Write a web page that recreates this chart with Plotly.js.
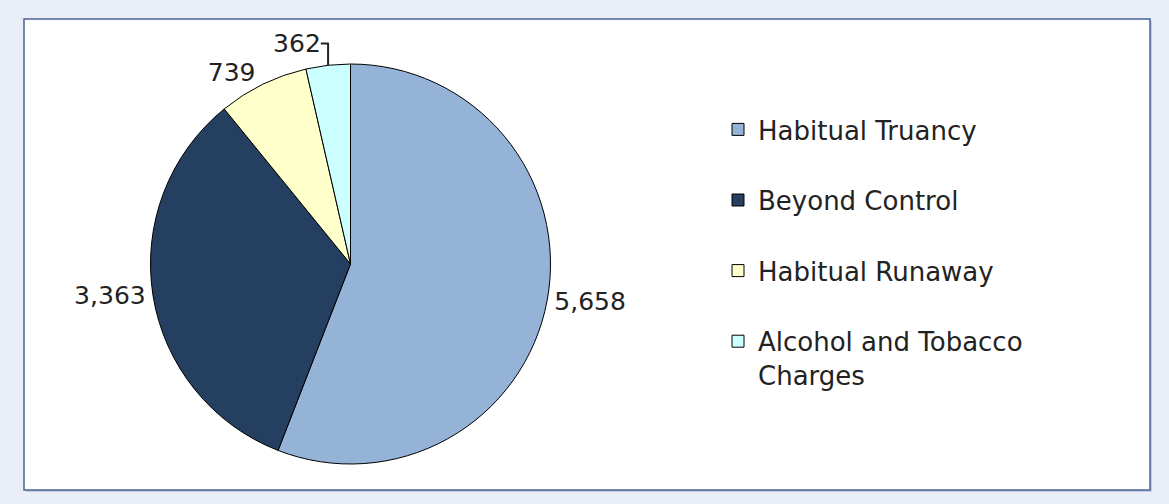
<!DOCTYPE html>
<html>
<head>
<meta charset="utf-8">
<script src="https://cdn.plot.ly/plotly-3.0.1.min.js"></script>
<style>html,body{margin:0;padding:0;background:#e9eef7;}#chart{width:1169px;height:504px;}</style>
</head>
<body>
<div id="chart"></div>
<script>
const categories = ["Habitual Truancy", "Beyond Control", "Habitual Runaway", "Alcohol and Tobacco Charges"];
const legendLabels = ["Habitual Truancy", "Beyond Control", "Habitual Runaway", "Alcohol and Tobacco<br>Charges"];
const values = [5658, 3363, 739, 362];
const colors = ["#95b3d7", "#243f60", "#ffffcc", "#ccffff"];

const W = 1169, H = 504;
const trace = {
  type: "pie",
  labels: legendLabels.map((l, i) => i < 3 ? l + "<br> " : l),
  values: values,
  sort: false,
  direction: "clockwise",
  rotation: 0,
  marker: {colors: colors, line: {color: "#000000", width: 1}},
  textinfo: "value",
  texttemplate: "%{value:,}",
  textposition: "outside",
  outsidetextfont: {family: "DejaVu Sans", size: 25, color: "#222222"},
  hoverinfo: "none",
  domain: {x: [150 / W, 551 / W], y: [1 - 464 / H, 1 - 64 / H]},
  automargin: false
};

const layout = {
  width: W, height: H,
  paper_bgcolor: "#e9eef7",
  margin: {l: 0, r: 0, t: 0, b: 0},
  font: {family: "DejaVu Sans", color: "#222222"},
  showlegend: true,
  legend: {
    x: 718 / W, y: 1 - 106 / H, xanchor: "left", yanchor: "top",
    font: {family: "DejaVu Sans", size: 26, color: "#222222"},
    bgcolor: "rgba(0,0,0,0)", valign: "top", tracegroupgap: 0
  },
  shapes: [
    {type: "rect", xref: "paper", yref: "paper", x0: 26 / W, x1: 1152 / W, y0: 1 - 492 / H, y1: 1 - 21 / H,
     fillcolor: "#c5cde0", line: {width: 0}, layer: "below"},
    {type: "rect", xref: "paper", yref: "paper", x0: 24 / W, x1: 1150 / W, y0: 1 - 490 / H, y1: 1 - 19 / H,
     fillcolor: "#ffffff", line: {color: "#4a6396", width: 1.5}, layer: "below"}
  ]
};

Plotly.newPlot("chart", [trace], layout, {displayModeBar: false, staticPlot: true});
</script>
</body>
</html>
